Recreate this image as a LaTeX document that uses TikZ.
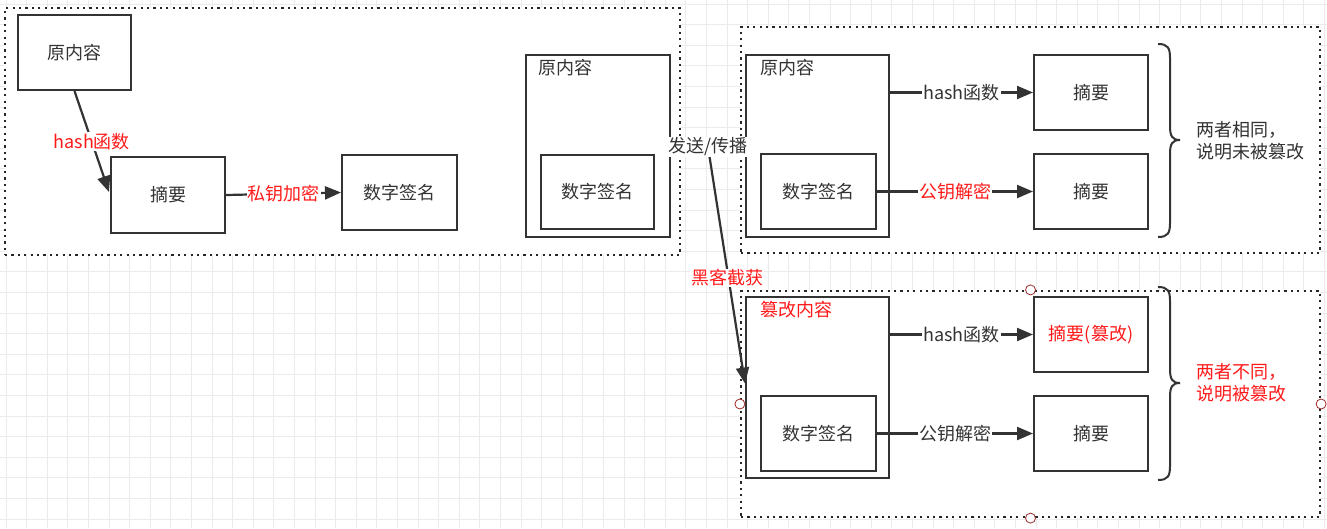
\documentclass[tikz,border=0pt]{standalone}
\usepackage{fontspec}
\setmainfont{Noto Sans CJK SC}
\usetikzlibrary{arrows.meta,calc}
\definecolor{ink}{HTML}{333333}
\definecolor{gridc}{HTML}{EBEBEB}
\definecolor{handle}{HTML}{9E2B2B}
\definecolor{hl}{HTML}{FF1A1A}
\begin{document}
\begin{tikzpicture}[x=1pt,y=-1pt,
  every node/.style={font=\fontsize{18}{22}\selectfont, text=ink, inner sep=0pt},
  box/.style={draw=ink, line width=2pt, fill=white},
  group/.style={draw=black!85, line width=2.2pt, dash pattern=on 2.2pt off 4.2pt, fill=white},
  arr/.style={draw=ink, line width=2.2pt, -{Triangle[length=16pt,width=13pt]}},
  lbl/.style={fill=white, inner sep=1pt},
  handlec/.style={draw=handle, fill=white, line width=0.8pt, circle, minimum size=10pt},
  bracep/.style={draw=ink, line width=2pt},
  note/.style={anchor=west, align=left, font=\fontsize{18}{22}\selectfont}
]
\useasboundingbox (0,0) rectangle (1327,528);
\fill[white] (0,0) rectangle (1327,528);
% grid
\foreach \i in {0,...,64} \draw[gridc, line width=0.8pt] ({6+20.6*\i},0) -- ({6+20.6*\i},528);
\foreach \j in {0,...,25} \draw[gridc, line width=0.8pt] (0,{4+20.6*\j}) -- (1327,{4+20.6*\j});

% groups
\node[group, minimum width=675pt, minimum height=247pt] (g1) at (342.5,131.5) {};
\node[group, minimum width=579pt, minimum height=226pt] (g2) at (1030.5,140) {};
\node[group, minimum width=579pt, minimum height=226pt] (g3) at (1030.5,404) {};

% left group
\node[box, minimum width=113pt, minimum height=75pt] (o1) at (74.5,52.5) {原内容};
\node[box, minimum width=114pt, minimum height=76pt] (s0) at (168,195) {摘要};
\node[box, minimum width=115pt, minimum height=75pt] (d0) at (399.5,192.5) {数字签名};
\node[box, minimum width=144pt, minimum height=182pt] (c1) at (598,146) {};
\node[anchor=west] (c1t) at (538,68) {原内容};
\node[box, minimum width=113pt, minimum height=74pt] (d1) at (597.5,192) {数字签名};

\draw[arr] (o1.south) -- ($(s0.west)+(-1,-3)$) node[lbl, text=hl, pos=0.5] (l1) {hash函数};
\draw[arr] (s0.east) -- (d0.west) node[lbl, text=hl, pos=0.5] (l2) {私钥加密};

% top right group
\node[box, minimum width=143pt, minimum height=182pt] (c2) at (817.5,146) {};
\node[anchor=west] (c2t) at (760,68) {原内容};
\node[box, minimum width=115pt, minimum height=75pt] (d2) at (818.5,191.5) {数字签名};
\node[box, minimum width=114pt, minimum height=75pt] (s1) at (1091,92.5) {摘要};
\node[box, minimum width=114pt, minimum height=75pt] (s2) at (1091,191.5) {摘要};
\draw[arr] (c2.east |- s1.west) -- (s1.west) node[lbl, pos=0.5] (l3) {hash函数};
\draw[arr] (d2.east) -- (s2.west) node[lbl, text=hl, pos=0.5] (l4) {公钥解密};
\draw[bracep] (1158,44) .. controls (1168,44) and (1170,48) .. (1170,58) -- (1170,126) .. controls (1170,136) and (1172,140) .. (1180,140) .. controls (1172,140) and (1170,144) .. (1170,154) -- (1170,223) .. controls (1170,233) and (1168,237) .. (1158,237);
\node[note] (r1) at (1196,141) {两者相同，\\说明未被篡改};

% bottom right group
\node[box, minimum width=143pt, minimum height=181pt] (c3) at (817.5,387.5) {};
\node[anchor=west, text=hl] (c3t) at (760,310) {篡改内容};
\node[box, minimum width=115pt, minimum height=75pt] (d3) at (818.5,433.5) {数字签名};
\node[box, minimum width=114pt, minimum height=75pt, text=hl] (s3) at (1091,334.5) {摘要(篡改)};
\node[box, minimum width=114pt, minimum height=75pt] (s4) at (1091,433.5) {摘要};
\draw[arr] (c3.east |- s3.west) -- (s3.west) node[lbl, pos=0.5] (l5) {hash函数};
\draw[arr] (d3.east) -- (s4.west) node[lbl, pos=0.5] (l6) {公钥解密};
\draw[bracep] (1158,287) .. controls (1168,287) and (1170,291) .. (1170,301) -- (1170,369) .. controls (1170,379) and (1172,383) .. (1180,383) .. controls (1172,383) and (1170,387) .. (1170,397) -- (1170,466) .. controls (1170,476) and (1168,480) .. (1158,480);
\node[note, text=hl] (r2) at (1196,383) {两者不同，\\说明被篡改};

% send / intercept
\coordinate (snd) at (708,147);
\draw[arr] (snd) -- ($(c3.west)+(0,-4)$);
\node[lbl] (l7) at (708,147) {发送/传播};
\node[lbl, text=hl] (l8) at (727,278) {黑客截获};

% handles
\node[handlec] (h1) at (g3.north) {};
\node[handlec] (h2) at (g3.west) {};
\node[handlec] (h3) at (g3.east) {};
\node[handlec] (h4) at (g3.south) {};
\end{tikzpicture}
\end{document}
